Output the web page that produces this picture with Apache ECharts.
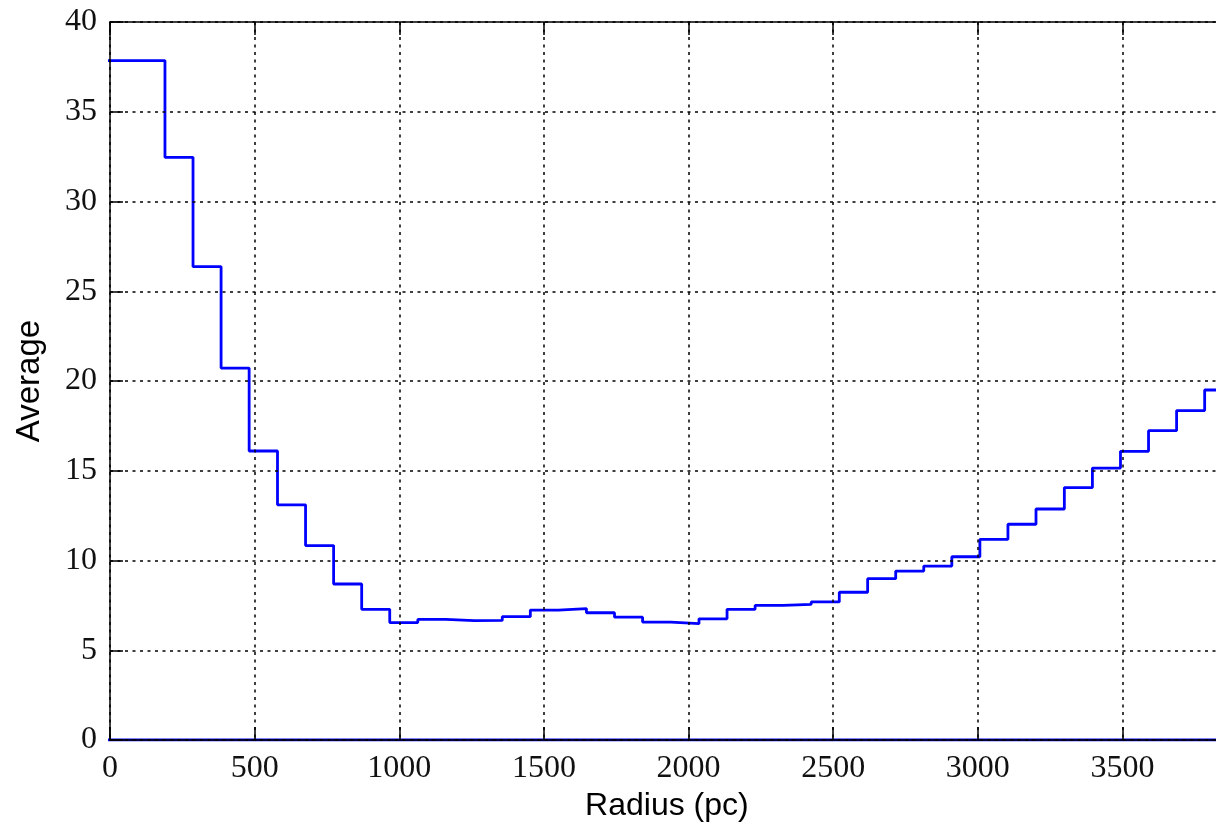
<!DOCTYPE html>
<html>
<head>
<meta charset="utf-8">
<script src="https://cdn.jsdelivr.net/npm/echarts@6/dist/echarts.min.js"></script>
<style>
html,body{margin:0;padding:0;background:#fff;}
#chart{width:1216px;height:829px;}
</style>
</head>
<body>
<div id="chart"></div>
<script>
// Histogram bin edges (pc)
const binEdges = [-10, 93, 190, 287, 384, 481, 579, 676, 773, 870, 967, 1064, 1161, 1259, 1356,
  1453, 1550, 1647, 1744, 1841, 1939, 2036, 2133, 2230, 2327, 2424, 2521, 2619, 2716, 2813,
  2910, 3007, 3104, 3201, 3299, 3396, 3493, 3590, 3687, 3784, 3881];
// Average value in each bin
const binValues = [37.85, 37.85, 32.46, 26.37, 20.72, 16.1, 13.1, 10.83, 8.69, 7.28, 6.54, 6.72,
  6.65, 6.66, 6.87, 7.24, 7.32, 7.09, 6.84, 6.57, 6.48, 6.75, 7.28, 7.5, 7.56, 7.69, 8.23,
  8.99, 9.41, 9.69, 10.21, 11.18, 12.02, 12.87, 14.06, 15.15, 16.08, 17.23, 18.35, 19.5];
const xTicks = [0, 500, 1000, 1500, 2000, 2500, 3000, 3500];
const xLimit = [0, 3850];
const yTicks = [0, 5, 10, 15, 20, 25, 30, 35, 40];
const xTitle = 'Radius (pc)';
const yTitle = 'Average';

// step outline of the histogram (left edge lies outside the axis and is clipped)
const outline = [];
for (let i = 0; i < binValues.length; i++) {
  outline.push([binEdges[i], binValues[i]]);
  outline.push([binEdges[i + 1], binValues[i]]);
}
outline.push([binEdges[binEdges.length - 1], 0]);
outline.push([binEdges[0], 0]);

const serif = '"Liberation Serif", "DejaVu Serif", serif';
const sans = '"Liberation Sans", Arial, sans-serif';
const gridLine = {show: true, lineStyle: {color: '#000', width: 1.5, type: [3, 4.5]}};
const spine = {show: true, lineStyle: {color: '#000', width: 1.5}};
const tick = {show: true, inside: true, length: 13, lineStyle: {color: '#000', width: 1.5}};
const plain = v => String(v);
const pxPerUnit = 1012.5 / 3500;

const chart = echarts.init(document.getElementById('chart'), null, {renderer: 'canvas'});
chart.setOption({
  animation: false,
  backgroundColor: '#fff',
  grid: {left: 110, top: 22, width: (xLimit[1] - xLimit[0]) * pxPerUnit, height: 718,
         containLabel: false, outerBoundsMode: 'none'},
  xAxis: [{
    type: 'value', position: 'bottom', z: 5,
    min: xLimit[0], max: xLimit[1], interval: xTicks[1] - xTicks[0],
    axisLine: spine, axisTick: tick, splitLine: gridLine,
    axisLabel: {show: true, fontFamily: serif, fontSize: 32, color: '#111', margin: 13,
                formatter: plain, showMaxLabel: false},
    name: xTitle, nameLocation: 'middle', nameGap: 44,
    nameTextStyle: {fontFamily: sans, fontSize: 32, color: '#000'}
  }, {
    type: 'value', position: 'top', z: 5,
    min: xLimit[0], max: xLimit[1], interval: xTicks[1] - xTicks[0],
    axisLine: spine, axisTick: tick, splitLine: {show: false}, axisLabel: {show: false}
  }],
  yAxis: [{
    type: 'value', z: 5,
    min: yTicks[0], max: yTicks[yTicks.length - 1], interval: yTicks[1] - yTicks[0],
    axisLine: spine, axisTick: tick, splitLine: gridLine,
    axisLabel: {show: true, fontFamily: serif, fontSize: 32, color: '#111', margin: 13, formatter: plain},
    name: yTitle, nameLocation: 'middle', nameGap: 64, nameRotate: 90,
    nameTextStyle: {fontFamily: sans, fontSize: 33, color: '#000'}
  }],
  series: [{
    type: 'line',
    data: outline,
    showSymbol: false,
    symbol: 'none',
    clip: true,
    lineStyle: {color: '#0000ff', width: 2.8},
    z: 3
  }]
});
</script>
</body>
</html>
